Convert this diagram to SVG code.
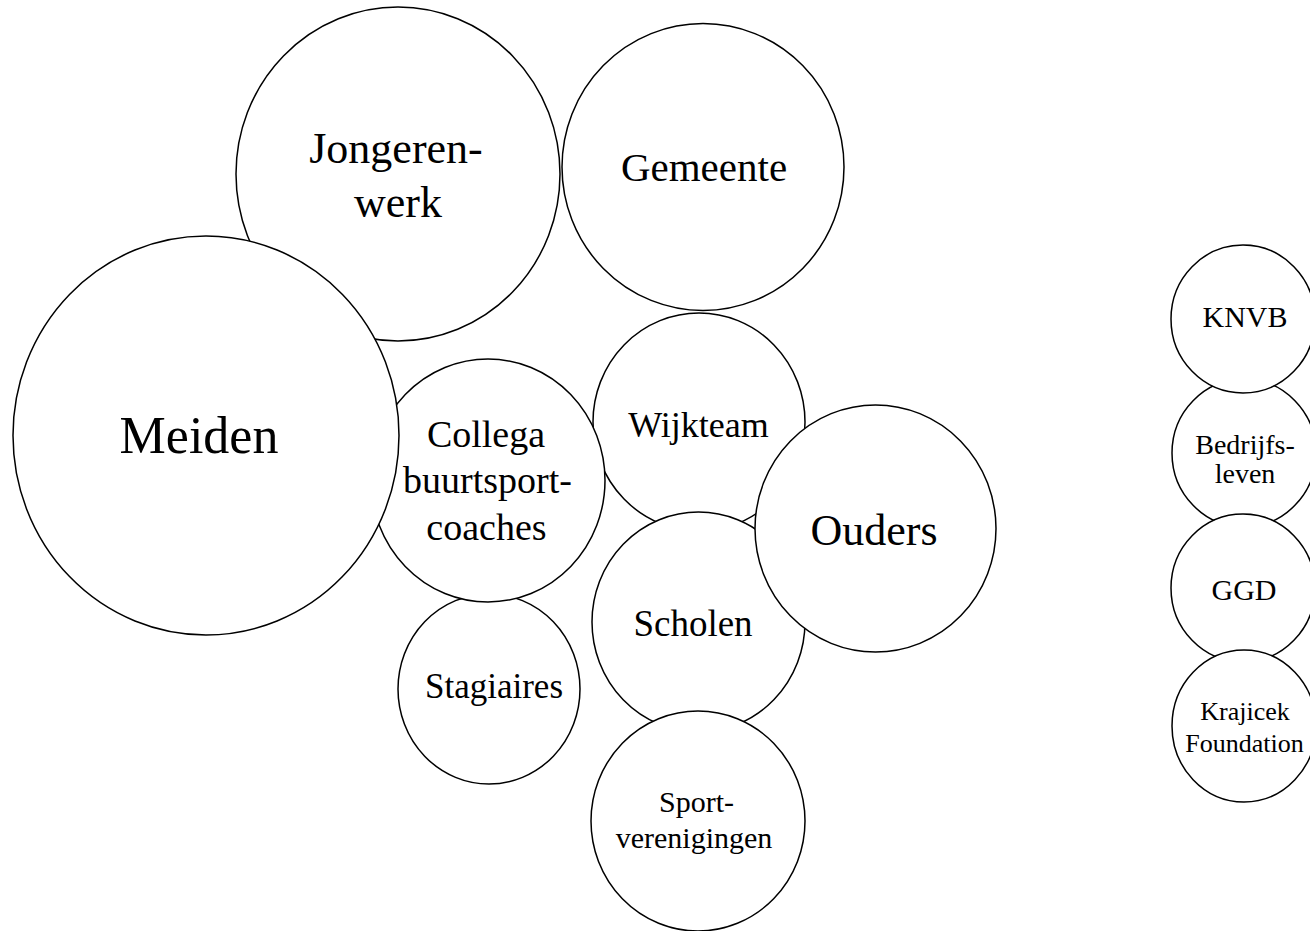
<svg xmlns="http://www.w3.org/2000/svg" width="1310" height="931" viewBox="0 0 1310 931">
<style>
ellipse{fill:#fff;stroke:#000;stroke-width:1.5}
text{font-family:"Liberation Serif","Times New Roman",serif;fill:#000;text-anchor:middle}
</style>
<rect width="1310" height="931" fill="#fff"/>
<g id="connectors"/>
<g id="jongerenwerk"><ellipse cx="398" cy="174" rx="162" ry="167"/><text x="396" y="163" font-size="44">Jongeren-</text><text x="398" y="217" font-size="44">werk</text></g>
<g id="gemeente"><ellipse cx="703" cy="167" rx="141" ry="143.5"/><text x="704" y="181" font-size="41">Gemeente</text></g>
<g id="wijkteam"><ellipse cx="699" cy="422" rx="106" ry="109"/><text x="698.5" y="437" font-size="36">Wijkteam</text></g>
<g id="stagiaires"><ellipse cx="489" cy="689" rx="91" ry="95"/><text x="494" y="698" font-size="35">Stagiaires</text></g>
<g id="collega"><ellipse cx="488" cy="480.5" rx="117" ry="121.5"/><text x="486" y="447" font-size="38">Collega</text><text x="487.5" y="493" font-size="38">buurtsport-</text><text x="486.5" y="540" font-size="38">coaches</text></g>
<g id="meiden"><ellipse cx="206" cy="435.5" rx="193" ry="199.5"/><text x="199" y="453" font-size="52">Meiden</text></g>
<g id="scholen"><ellipse cx="698.5" cy="622" rx="106.5" ry="110"/><text x="693" y="636" font-size="37">Scholen</text></g>
<g id="sportverenigingen"><ellipse cx="698" cy="821" rx="107" ry="110"/><text x="696.5" y="812" font-size="30">Sport-</text><text x="694" y="848" font-size="30">verenigingen</text></g>
<g id="ouders"><ellipse cx="875.5" cy="528.5" rx="120.5" ry="123.5"/><text x="874" y="545" font-size="44">Ouders</text></g>
<g id="bedrijfsleven"><ellipse cx="1244" cy="453" rx="72" ry="74"/><text x="1245" y="454" font-size="28">Bedrijfs-</text><text x="1245" y="483" font-size="28">leven</text></g>
<g id="knvb"><ellipse cx="1243" cy="319" rx="72" ry="74"/><text x="1245" y="327" font-size="30">KNVB</text></g>
<g id="ggd"><ellipse cx="1243" cy="588" rx="72" ry="74"/><text x="1244" y="600" font-size="30">GGD</text></g>
<g id="krajicek"><ellipse cx="1244" cy="726" rx="72" ry="76"/><text x="1245" y="720" font-size="26">Krajicek</text><text x="1244.5" y="752" font-size="26">Foundation</text></g>
</svg>
